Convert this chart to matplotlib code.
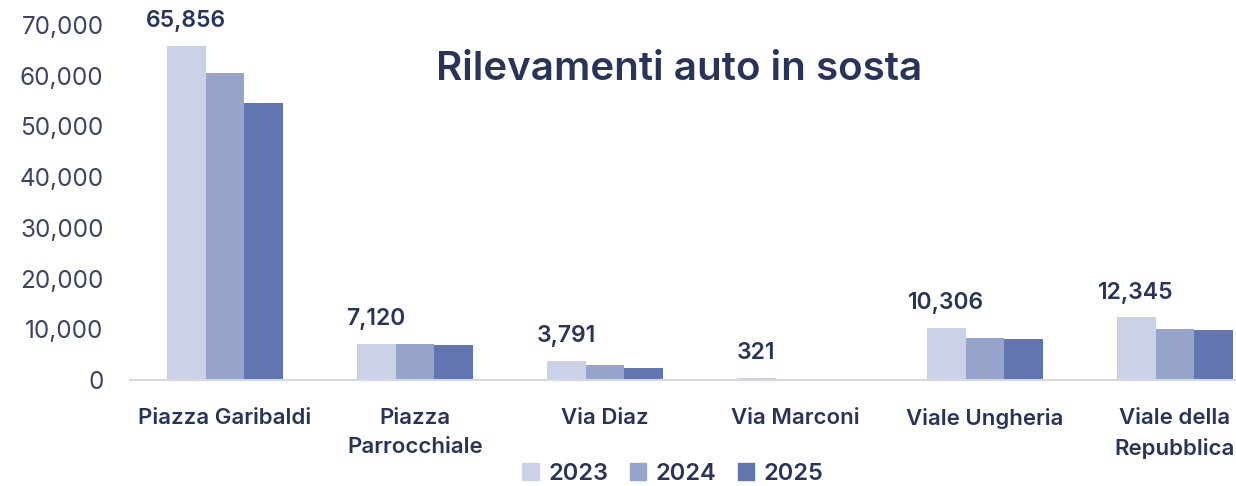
import numpy as np
import matplotlib.pyplot as plt
from matplotlib.patches import Patch

categories = ["Piazza Garibaldi", "Piazza\nParrocchiale", "Via Diaz", "Via Marconi",
              "Viale Ungheria", "Viale della\nRepubblica"]
years = ["2023", "2024", "2025"]
values_2023 = [65856, 7120, 3791, 321, 10306, 12345]
values_2024 = [60500, 7180, 3000, 0, 8300, 10100]
values_2025 = [54600, 6950, 2450, 0, 8050, 9800]
yticks = [0, 10000, 20000, 30000, 40000, 50000, 60000, 70000]

colors = ["#cbd1e6", "#97a4cc", "#6175b0"]
navy = "#28345a"
tick_color = "#3d4463"

plt.rcParams["font.family"] = ["Inter", "DejaVu Sans"]

fig = plt.figure(figsize=(12.36, 4.86), dpi=100)
ax = fig.add_axes([130 / 1236, 106 / 486, 1140 / 1236, 355 / 486])

x = np.arange(len(categories))
width = 0.205
series = [values_2023, values_2024, values_2025]
for i, (vals, c) in enumerate(zip(series, colors)):
    ax.bar(x + (i - 1) * width, vals, width=width, color=c, zorder=2)

for xi, v in zip(x, values_2023):
    ax.annotate(f"{v:,}", (xi - width, v), xytext=(0, 10), textcoords="offset points",
                ha="center", va="bottom", fontsize=16.5, fontweight="semibold",
                color=navy, annotation_clip=False)

ax.set_xlim(-0.5, len(categories) - 0.5)
ax.set_ylim(0, 70000)
ax.set_yticks(yticks)
ax.set_yticklabels([f"{t:,}" for t in yticks], fontsize=17.5, color=tick_color,
                   fontweight="normal")
ax.set_xticks(x)
ax.set_xticklabels(categories, fontsize=16, fontweight="semibold", color=navy,
                   linespacing=1.6, va="top")
ax.tick_params(axis="y", length=0, pad=19)
ax.tick_params(axis="x", length=0, pad=20)

for s in ["top", "right", "left"]:
    ax.spines[s].set_visible(False)
ax.spines["bottom"].set_color("#d9d9d9")
ax.spines["bottom"].set_linewidth(1.5)

fig.text(679 / 1236, 1 - 70 / 486, "Rilevamenti auto in sosta", ha="center", va="center",
         fontsize=29, fontweight="semibold", color=navy)

handles = [Patch(color=c) for c in colors]
fig.legend(handles, years, loc="center", bbox_to_anchor=(673 / 1236, 12 / 486), ncol=3,
           frameon=False, handlelength=0.7, handleheight=0.7,
           handletextpad=0.4, columnspacing=0.9, borderpad=0.1,
           prop={"size": 17, "weight": "semibold"}, labelcolor=navy)

fig.savefig("out.png", dpi=100)
